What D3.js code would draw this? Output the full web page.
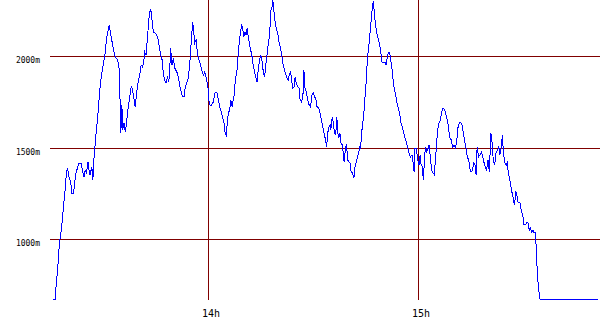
<!DOCTYPE html>
<meta charset="utf-8">
<style>
body { margin: 0; background: #fff; }
.grid line { stroke: #800000; stroke-width: 1; shape-rendering: crispEdges; }
.label { font-family: "DejaVu Sans Mono", monospace; fill: #000; }
.ylab { font-size: 8px; }
.xlab { font-size: 10px; }
.track { fill: none; stroke: #0000ff; stroke-width: 1; shape-rendering: crispEdges; }
</style>
<svg width="600" height="330"></svg>
<script src="https://d3js.org/d3.v7.min.js"></script>
<script>

// minutes after 13:00
var minutes = [
  15.7,16.5,16.5,16.8,17.1,17.4,17.7,18.2,18.5,18.8,19.1,19.3,19.6,19.9,20.3,20.8,21.1,21.6,21.9,22.3,
  22.8,23.2,23.7,24.1,24.6,24.9,25.3,25.7,26.0,26.3,26.8,27.1,27.3,27.5,27.8,28.1,28.5,28.8,29.1,29.4,
  29.8,30.2,30.6,30.9,31.1,31.5,31.8,32.1,32.5,32.9,33.3,33.7,34.2,34.6,34.8,35.0,35.1,35.4,35.6,36.0,
  36.4,36.7,37.1,37.4,37.8,38.1,38.4,38.9,39.2,39.5,39.8,40.2,40.6,40.9,41.3,41.7,41.9,
  42.3,42.7,43.0,43.2,43.5,43.8,44.1,44.4,44.9,45.3,45.8,46.1,46.5,46.9,47.2,47.6,48.0,48.4,48.8,49.1,
  49.3,49.7,50.1,50.5,51.1,51.5,52.0,52.4,52.8,53.2,53.5,53.9,54.4,54.9,55.1,55.4,55.6,55.9,56.2,56.6,
  56.9,57.2,57.7,58.2,58.7,59.1,59.6,60.0,60.2,60.6,60.9,61.5,62.0,62.5,62.8,63.1,63.4,63.9,64.2,64.6,
  64.9,65.2,65.5,65.8,66.2,66.5,66.9,67.2,67.6,
  67.8,68.2,68.5,68.8,69.1,69.3,69.6,69.9,70.2,70.6,70.9,71.2,71.5,71.8,72.2,72.6,72.9,73.3,73.7,74.0,
  74.3,74.7,75.1,75.4,75.8,76.2,76.5,76.8,77.1,77.4,77.7,78.0,78.3,78.5,78.8,79.1,79.5,79.9,80.3,80.7,
  81.1,81.3,81.7,82.1,82.5,82.9,83.2,83.6,83.9,84.2,84.6,84.9,85.2,85.6,86.0,86.3,86.7,87.1,87.4,87.7,
  88.1,88.5,88.9,89.3,89.7,90.1,90.5,90.9,91.2,91.6,92.0,92.4,92.8,93.1,93.4,
  93.6,93.9,94.2,94.5,94.9,95.1,95.5,95.8,96.1,96.5,96.8,97.1,97.4,97.7,98.0,98.4,98.7,98.9,99.3,99.6,
  99.9,100.3,100.6,100.9,101.3,101.7,102.0,102.3,102.7,103.1,103.3,103.6,103.9,104.2,104.5,104.8,105.1,105.3,105.6,105.9,
  106.2,106.5,106.8,107.1,107.3,107.6,107.9,108.2,108.6,108.9,109.3,109.7,110.1,110.6,110.9,111.3,111.7,112.0,112.3,112.6,
  112.9,113.2,113.6,114.0,114.4,114.8,115.1,115.5,115.9,116.3,116.7,117.1,117.4,117.8,118.3,118.6,118.9,119.1,
  119.5,119.9,120.3,120.6,120.9,121.3,121.5,121.8,122.1,122.5,122.9,123.2,123.6,123.9,124.3,124.7,125.0,125.2,125.6,126.0,
  126.4,126.7,126.9,127.2,127.6,128.0,128.4,128.8,129.1,129.5,129.9,130.3,130.7,131.1,131.4,131.8,132.2,132.6,132.9,133.3,
  133.7,134.1,134.5,134.9,135.2,135.6,135.9,136.3,136.6,136.9,137.3,137.7,138.1,138.5,138.9,139.2,139.6,140.0,140.4,140.8,
  141.1,141.5,141.9,142.3,142.7,143.1,143.4,143.8,144.1,144.4,144.8,
  144.9,145.2,145.5,145.8,146.1,146.5,146.8,147.1,147.3,147.6,147.9,148.2,148.5,148.9,149.1,149.4,149.7,150.0,150.3,150.7,
  151.1,151.4,151.8,152.1,152.5,152.9,153.2,153.5,153.7,153.9,154.2,154.5,154.8,154.9,171.5
];

// altitude in metres
var altitude = [
  667,667,721,787,847,940,1000,1066,1131,1197,1251,1306,1372,1383,1339,1306,1251,1251,1306,1361,
  1394,1415,1415,1377,1339,1377,1361,1421,1377,1350,1394,1322,1394,1470,1525,1596,1667,1743,1814,1869,
  1924,1967,2016,2071,2104,2142,2169,2126,2087,2044,2005,1989,1978,1934,1787,1721,1579,1732,1596,1634,
  1585,1634,1705,1743,1798,1836,1820,1760,1721,1776,1831,1869,1907,1951,1940,1978,2022,
  2005,2104,2169,2224,2251,2240,2180,2131,2126,2115,2087,2049,2005,1978,1913,1869,1853,1885,1858,1934,
  2044,1951,1989,1934,1913,1885,1831,1798,1776,1776,1831,1853,1880,1989,2049,2126,2186,2142,2071,2087,
  2033,1995,1962,1924,1896,1913,1869,1825,1760,1732,1727,1749,1798,1803,1776,1749,1716,1689,1661,1634,
  1579,1568,1634,1689,1705,1760,1721,1760,1798,
  1885,1896,1978,2049,2104,2131,2169,2158,2104,2131,2115,2153,2104,2071,2033,1995,1951,1913,1880,1858,
  1913,1978,2005,1978,1913,1885,1951,1995,2049,2087,2153,2251,2268,2306,2251,2197,2153,2126,2077,2044,
  2005,1967,1934,1907,1880,1869,1896,1913,1869,1825,1831,1885,1853,1831,1825,1760,1749,1771,1924,1825,
  1803,1760,1732,1721,1787,1798,1776,1760,1716,1721,1689,1650,1612,1585,1557,
  1541,1503,1579,1607,1623,1596,1667,1634,1585,1568,1667,1579,1557,1579,1525,1514,1459,1421,1503,1514,
  1432,1421,1415,1366,1361,1333,1394,1415,1448,1475,1503,1497,1579,1634,1678,1760,1831,1907,1995,2049,
  2104,2169,2235,2290,2295,2213,2169,2126,2098,2071,2033,1967,1962,1967,1951,2005,2022,2005,1967,1924,
  1869,1825,1787,1743,1716,1678,1639,1612,1579,1552,1525,1497,1470,1448,1459,1415,1366,1497,
  1497,1432,1404,1459,1404,1394,1322,1415,1503,1475,1497,1514,1432,1377,1361,1350,1448,1486,1596,1634,
  1650,1689,1705,1716,1705,1678,1650,1596,1552,1541,1503,1514,1497,1541,1607,1634,1639,1623,1585,1541,
  1497,1448,1432,1377,1366,1377,1415,1404,1350,1503,1448,1459,1475,1448,1415,1394,1377,1432,1366,1579,
  1541,1432,1404,1470,1486,1503,1459,1497,1568,1470,1421,
  1415,1404,1415,1366,1333,1295,1257,1241,1202,1186,1257,1251,1202,1197,1202,1169,1142,1120,1077,1077,
  1093,1088,1049,1060,1038,1049,1033,1033,984,885,787,721,683,667,667
];

var altTicks = [1000, 1500, 2000];
var hourTicks = [60, 120];

var svg = d3.select("svg"),
    left = 50, right = 600, top = 0, bottom = 300;

var x = d3.scaleLinear().domain([60, 120]).range([208, 418]);
var y = d3.scaleLinear().domain([1000, 2000]).range([239, 56]);

var data = minutes.map(function(m, i) { return { t: m, a: altitude[i] }; });

var grid = svg.append("g").attr("class", "grid");

grid.selectAll(".h")
    .data(altTicks)
  .enter().append("line")
    .attr("x1", left).attr("x2", right)
    .attr("y1", function(d) { return Math.round(y(d)) + 0.5; })
    .attr("y2", function(d) { return Math.round(y(d)) + 0.5; });

grid.selectAll(".v")
    .data(hourTicks)
  .enter().append("line")
    .attr("y1", top).attr("y2", bottom)
    .attr("x1", function(d) { return Math.round(x(d)) + 0.5; })
    .attr("x2", function(d) { return Math.round(x(d)) + 0.5; });

svg.selectAll(".ylab")
    .data(altTicks)
  .enter().append("text")
    .attr("class", "label ylab")
    .attr("text-anchor", "end")
    .attr("x", 40)
    .attr("y", function(d) { return y(d) + 7; })
    .text(function(d) { return d + "m"; });

svg.selectAll(".xlab")
    .data(hourTicks)
  .enter().append("text")
    .attr("class", "label xlab")
    .attr("x", function(d) { return x(d) - 6; })
    .attr("y", 317)
    .text(function(d) { return (13 + d / 60) + "h"; });

var line = d3.line()
    .x(function(d) { return x(d.t); })
    .y(function(d) { return y(d.a); });

svg.append("path")
    .datum(data)
    .attr("class", "track")
    .attr("d", line);

</script>
